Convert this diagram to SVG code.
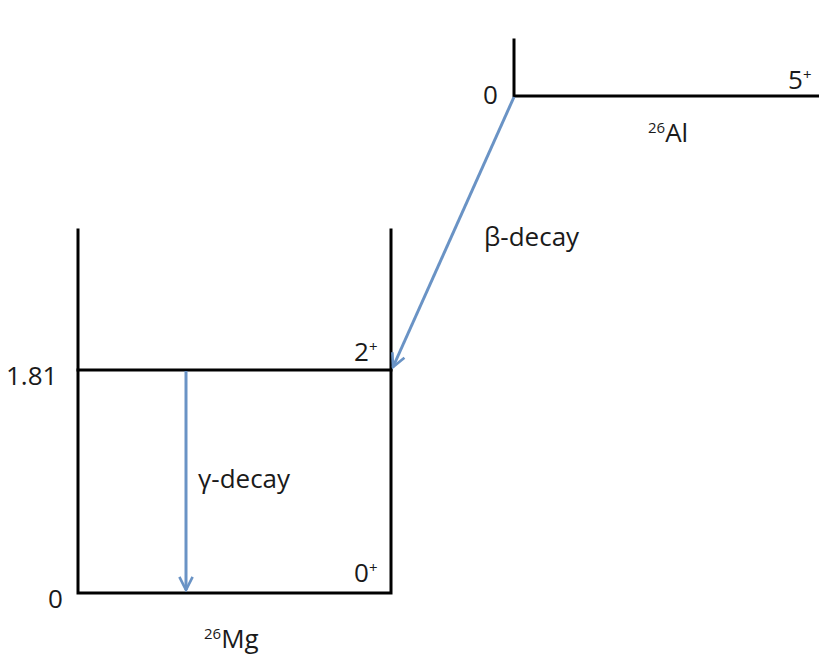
<svg xmlns="http://www.w3.org/2000/svg" width="819" height="655" viewBox="0 0 819 655">
<style>
.lv{stroke:#000;stroke-width:3;fill:none;stroke-linecap:square}
.ar{stroke:#6a93c5;stroke-width:3;fill:none}
text{font-family:"Open Sans","Liberation Sans",sans-serif;font-size:26px;fill:#1a1a1a}
.sup{font-size:15px}
</style>
<defs>
<marker id="ah" viewBox="0 0 10 10" refX="9" refY="5" markerWidth="5.5" markerHeight="5.5" orient="auto" markerUnits="strokeWidth">
<path d="M1,1 L9,5 L1,9" fill="none" stroke="#6a93c5" stroke-width="1.6"/>
</marker>
</defs>
<rect width="819" height="655" fill="#fff"/>
<g id="al26">
<path class="lv" d="M514,40 V96 H819"/>
<text x="483" y="104">0</text>
<text x="788" y="89">5<tspan class="sup" dy="-9">+</tspan></text>
<text x="648" y="142"><tspan class="sup" dy="-9">26</tspan><tspan dy="9">Al</tspan></text>
</g>
<g id="mg26">
<path class="lv" d="M78,230 V593 H391 V230"/>
<path class="lv" d="M78,370 H391"/>
<text x="6" y="385">1.81</text>
<text x="48" y="608">0</text>
<text x="354" y="361">2<tspan class="sup" dy="-9">+</tspan></text>
<text x="354" y="582">0<tspan class="sup" dy="-9">+</tspan></text>
<text x="204" y="648"><tspan class="sup" dy="-9">26</tspan><tspan dy="9">Mg</tspan></text>
</g>
<g id="connectors">
<line class="ar" x1="514" y1="97" x2="393" y2="367" marker-end="url(#ah)"/>
<line class="ar" x1="186" y1="371" x2="186" y2="590" marker-end="url(#ah)"/>
<text x="484" y="246">β-decay</text>
<text x="198" y="488">γ-decay</text>
</g>
</svg>
